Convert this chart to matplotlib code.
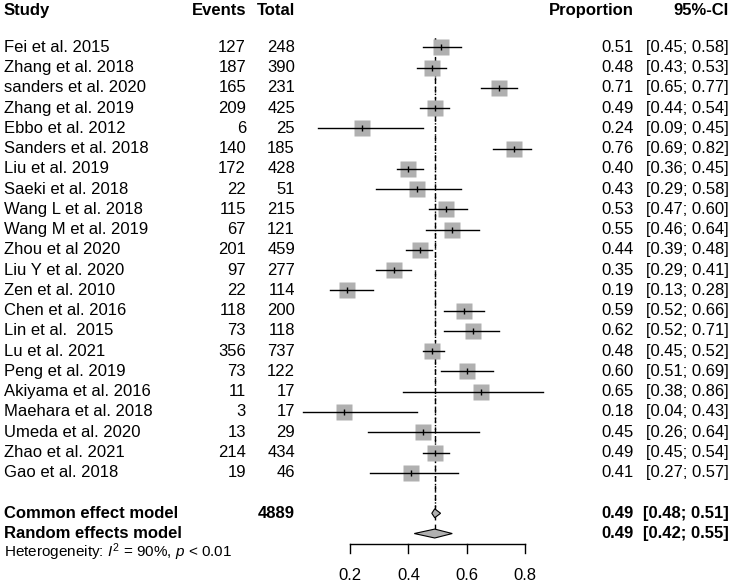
import matplotlib
matplotlib.use('Agg')
from matplotlib import pyplot as plt

plt.rcParams['font.family'] = 'Liberation Sans'
plt.rcParams['mathtext.fontset'] = 'custom'
plt.rcParams['mathtext.rm'] = 'Liberation Sans'
plt.rcParams['mathtext.it'] = 'Liberation Sans:italic'

studies = ["Fei et al. 2015", "Zhang et al. 2018", "sanders et al. 2020",
           "Zhang et al. 2019", "Ebbo et al. 2012", "Sanders et al. 2018",
           "Liu et al. 2019", "Saeki et al. 2018", "Wang L et al. 2018",
           "Wang M et al. 2019", "Zhou et al 2020", "Liu Y et al. 2020",
           "Zen et al. 2010", "Chen et al. 2016", "Lin et al.  2015",
           "Lu et al. 2021", "Peng et al. 2019", "Akiyama et al. 2016",
           "Maehara et al. 2018", "Umeda et al. 2020", "Zhao et al. 2021",
           "Gao et al. 2018"]
events = [127, 187, 165, 209, 6, 140, 172, 22, 115, 67, 201, 97, 22, 118,
          73, 356, 73, 11, 3, 13, 214, 19]
totals = [248, 390, 231, 425, 25, 185, 428, 51, 215, 121, 459, 277, 114,
          200, 118, 737, 122, 17, 17, 29, 434, 46]
props = [0.51, 0.48, 0.71, 0.49, 0.24, 0.76, 0.40, 0.43, 0.53, 0.55, 0.44,
         0.35, 0.19, 0.59, 0.62, 0.48, 0.60, 0.65, 0.18, 0.45, 0.49, 0.41]
lower = [0.45, 0.43, 0.65, 0.44, 0.09, 0.69, 0.36, 0.29, 0.47, 0.46, 0.39,
         0.29, 0.13, 0.52, 0.52, 0.45, 0.51, 0.38, 0.04, 0.26, 0.45, 0.27]
upper = [0.58, 0.53, 0.77, 0.54, 0.45, 0.82, 0.45, 0.58, 0.60, 0.64, 0.48,
         0.41, 0.28, 0.66, 0.71, 0.52, 0.69, 0.86, 0.43, 0.64, 0.54, 0.57]

pooled_total = 4889
common = (0.49, 0.48, 0.51)
random_eff = (0.49, 0.42, 0.55)
ticks = [0.2, 0.4, 0.6, 0.8]

W, H = 733, 582
fig = plt.figure(figsize=(W / 100, H / 100), dpi=100)
ax = fig.add_axes([0, 0, 1, 1])
ax.axis('off')

# pixel -> data mapping (0.2 at px 350, 0.8 at px 525.3; row 1 at py 47.3, 20.26 px/row)
pxu = 292.2
ax.set_xlim(0.2 - 350 / pxu, 0.2 + (W - 350) / pxu)
ax.set_ylim(1 + (H - 47.3) / 20.26, 1 - 47.3 / 20.26)

tr = ax.get_yaxis_transform()
fs = 12
col_study, col_ev, col_tot, col_prop, col_ci = 4 / W, 246 / W, 295 / W, 634 / W, 729 / W

hy = -0.83
ax.text(col_study, hy, "Study", transform=tr, ha='left', va='center', fontsize=fs, fontweight='bold')
ax.text(col_ev, hy, "Events", transform=tr, ha='right', va='center', fontsize=fs, fontweight='bold')
ax.text(col_tot, hy, "Total", transform=tr, ha='right', va='center', fontsize=fs, fontweight='bold')
ax.text(col_prop, hy, "Proportion", transform=tr, ha='right', va='center', fontsize=fs, fontweight='bold')
ax.text(col_ci, hy, "95%-CI", transform=tr, ha='right', va='center', fontsize=fs, fontweight='bold')

rows = list(range(1, len(studies) + 1))
for r, s, e, n, p, lo, hi in zip(rows, studies, events, totals, props, lower, upper):
    ax.text(col_study, r, s, transform=tr, ha='left', va='center', fontsize=fs)
    ax.text(col_ev, r, str(e), transform=tr, ha='right', va='center', fontsize=fs)
    ax.text(col_tot, r, str(n), transform=tr, ha='right', va='center', fontsize=fs)
    ax.text(col_prop, r, f"{p:.2f}", transform=tr, ha='right', va='center', fontsize=fs)
    ax.text(col_ci, r, f"[{lo:.2f}; {hi:.2f}]", transform=tr, ha='right', va='center', fontsize=fs)

# reference lines (common: dotted, random: dashed)
r_c, r_r = len(studies) + 2, len(studies) + 3
dh = 0.22
ax.plot([common[0], common[0]], [0.55, r_c - dh], color='black', lw=1, ls=':', zorder=1)
ax.plot([random_eff[0], random_eff[0]], [0.55, r_r - dh], color='black', lw=1, ls=(0, (4, 3)), zorder=1)

ax.plot(props, rows, ls='none', marker='s', markersize=11.5, color='#b0b0b0', mec='none', zorder=2)
for r, p, lo, hi in zip(rows, props, lower, upper):
    ax.plot([lo, hi], [r, r], color='black', lw=1, zorder=3)
ax.plot(props, rows, ls='none', marker='|', markersize=5, mew=1, color='black', zorder=4)

for r, (est, lo, hi), lab in [(r_c, common, "Common effect model"), (r_r, random_eff, "Random effects model")]:
    ax.fill([lo, est, hi, est], [r, r - dh, r, r + dh], facecolor='#b0b0b0', edgecolor='black', lw=0.8, zorder=3)
    ax.text(col_study, r, lab, transform=tr, ha='left', va='center', fontsize=fs, fontweight='bold')
    ax.text(col_prop, r, f"{est:.2f}", transform=tr, ha='right', va='center', fontsize=fs, fontweight='bold')
    ax.text(col_ci, r, f"[{lo:.2f}; {hi:.2f}]", transform=tr, ha='right', va='center', fontsize=fs, fontweight='bold')
ax.text(col_tot, r_c, str(pooled_total), transform=tr, ha='right', va='center', fontsize=fs, fontweight='bold')

ax.text(col_study, r_r + 0.9, "Heterogeneity: $I^2$ = 90%, $p$ < 0.01", transform=tr,
        ha='left', va='center', fontsize=11)

# x axis
ya = r_r + 0.53
ax.plot([ticks[0], ticks[-1]], [ya, ya], color='black', lw=1)
for t in ticks:
    ax.plot([t, t], [ya, ya + 0.43], color='black', lw=1)
    ax.text(t, ya + 1.52, f"{t:.1f}", ha='center', va='center', fontsize=fs)

fig.savefig('out.png', dpi=100)
